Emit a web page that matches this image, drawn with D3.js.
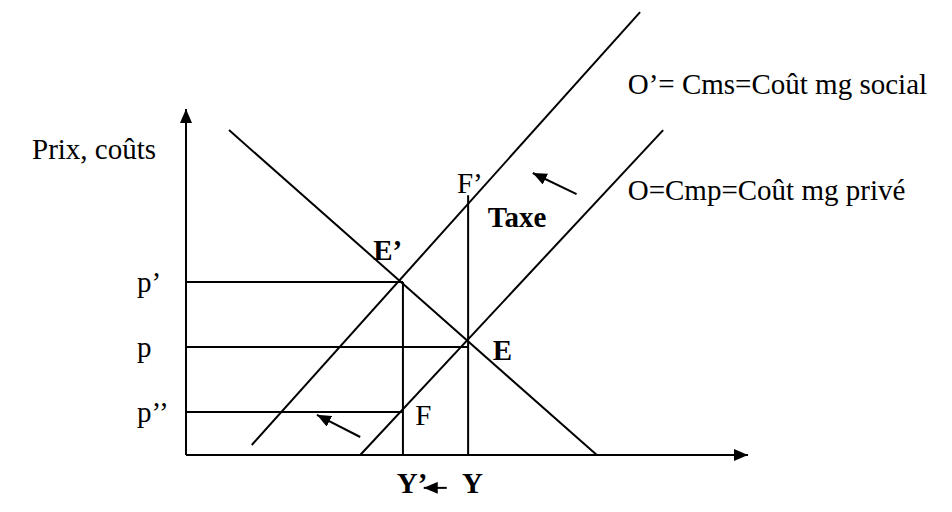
<!DOCTYPE html>
<html><head><meta charset="utf-8">
<script src="https://cdn.jsdelivr.net/npm/d3@7"></script>
<style>
html,body{margin:0;padding:0;background:#fff;}
</style></head>
<body>
<svg id="c" width="952" height="512"></svg>
<script>
// ---- data (economic units: quantity 0..100, price 0..100) ----
const demandCurve = [[7.65, 93.9], [73.1, 0]];          // demand
const socialCostCurve = [[11.7, 2.9], [80.8, 128.0]];    // O' = Cms
const privateCostCurve = [[31.0, 0], [84.9, 93.9]];      // O = Cmp
const priceNames = ["p’", "p", "p’’"];
const priceValues = [50.0, 31.2, 12.4];
const priceEnds = [38.6, 50.2, 38.6];                    // quantity where guide ends
const quantityNames = ["Y’", "Y"];
const quantityValues = [38.6, 50.2];
const quantityTops = [50.0, 75.1];

const W = 952, H = 512;
const svg = d3.select("#c");
const x = d3.scaleLinear().domain([0, 100]).range([186, 748]);
const y = d3.scaleLinear().domain([0, 100]).range([455, 109]);
const line = d3.line().x(d => x(d[0])).y(d => y(d[1]));

const defs = svg.append("defs");
defs.append("marker").attr("id", "ah").attr("viewBox", "0 0 14 12")
  .attr("refX", 14).attr("refY", 6).attr("markerWidth", 14).attr("markerHeight", 12)
  .attr("markerUnits", "userSpaceOnUse").attr("orient", "auto")
  .append("path").attr("d", "M0,0 L14,6 L0,12 Z").attr("fill", "#000");

const g = svg.append("g").attr("stroke", "#000").attr("stroke-width", 2).attr("fill", "none");

// axes
g.append("path").attr("d", line([[0, 0], [0, 100]])).attr("marker-end", "url(#ah)");
g.append("path").attr("d", line([[0, 0], [100, 0]])).attr("marker-end", "url(#ah)");

// curves
[demandCurve, socialCostCurve, privateCostCurve].forEach(c => g.append("path").attr("d", line(c)));

// price guides
priceValues.forEach((p, i) => g.append("path").attr("d", line([[0, p], [priceEnds[i], p]])));
// quantity guides
quantityValues.forEach((q, i) => g.append("path").attr("d", line([[q, 0], [q, quantityTops[i]]])));

// small arrows (shift of supply curve, shift of quantity)
const shiftArrows = [
  [[69.5, 75.4], [61.7, 81.5]],
  [[31.0, 5.2], [23.3, 11.6]],
  [[46.4, -9.5], [42.3, -9.5]]
];
shiftArrows.forEach(a => g.append("path").attr("d", line(a)).attr("marker-end", "url(#ah)"));

// labels
const fs = 29;
const T = (t, ux, uy, bold) => svg.append("text").attr("x", x(ux)).attr("y", y(uy))
  .attr("font-family", "'Liberation Serif', 'DejaVu Serif', 'Times New Roman', serif")
  .attr("fill", "#000")
  .attr("font-size", fs).attr("font-weight", bold ? "bold" : "normal").text(t);

T("Prix, coûts", -27.4, 85.5, false);
priceNames.forEach((n, i) => T(n, -8.7, priceValues[i] - 2.9, false));
T(quantityNames[0], 37.5, -11.0, true);
T(quantityNames[1], 49.1, -11.0, true);
T("E’", 33.3, 56.4, true);
T("E", 54.6, 27.5, true);
T("F’", 48.2, 75.7, false);
T("F", 40.8, 8.7, false);
T("Taxe", 53.7, 65.9, true);
T("O’= Cms=Coût mg social", 78.6, 104.3, false);
T("O=Cmp=Coût mg privé", 78.6, 73.7, false);
</script>
</body></html>
